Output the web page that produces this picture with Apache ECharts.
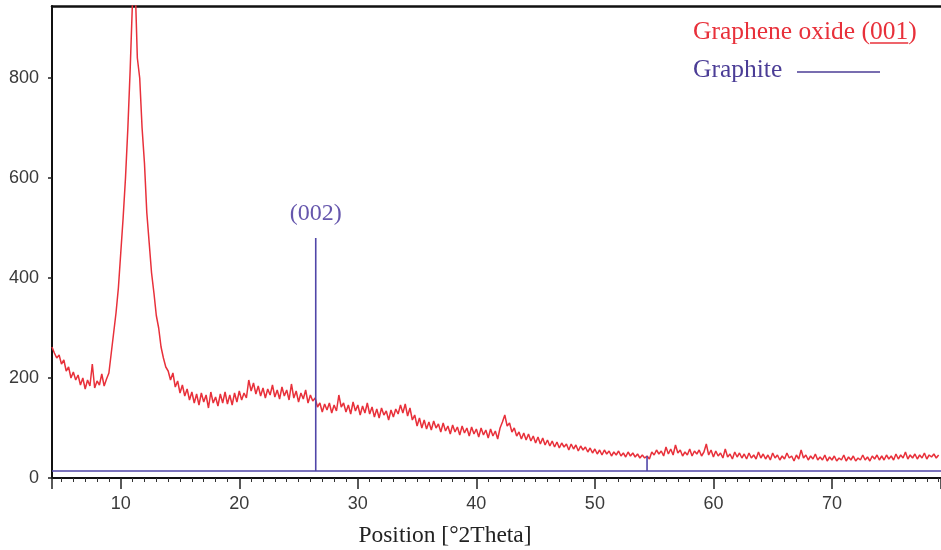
<!DOCTYPE html>
<html>
<head>
<meta charset="utf-8">
<script src="https://cdn.jsdelivr.net/npm/echarts@6/dist/echarts.min.js"></script>
<style>
  html, body { margin: 0; padding: 0; background: #fff; }
  #chart { width: 941px; height: 550px; }
</style>
</head>
<body>
<div id="chart"></div>
<script>
// graphene oxide pattern, read every 0.2 deg from 4.2 to 79.0
const X_START = 4.2;
const X_STEP = 0.2;
const goIntensity = [
  262, 250, 240, 246, 228, 236, 214, 222, 200, 212, 196, 206, 186, 200, 178, 196, 184, 228, 180, 194, 186, 208, 184, 198, 210,
  250, 290, 330, 380, 450, 520, 600, 700, 820, 960, 1000, 840, 800, 700, 630, 530, 470, 410, 370, 325, 300, 262, 240, 222, 214,
  196, 210, 182, 194, 170, 186, 164, 178, 156, 172, 150, 168, 146, 170, 152, 166, 140, 172, 150, 162, 144, 168, 150, 172, 148,
  166, 146, 170, 152, 174, 156, 170, 160, 196, 174, 190, 168, 184, 164, 180, 160, 178, 166, 186, 162, 176, 158, 182, 164, 176,
  156, 188, 160, 174, 152, 170, 158, 176, 150, 166, 154, 160, 142, 150, 132, 148, 136, 150, 130, 146, 134, 166, 142, 150, 132,
  146, 128, 152, 134, 146, 126, 144, 130, 150, 128, 142, 122, 138, 120, 140, 126, 134, 116, 136, 122, 138, 128, 146, 130, 148,
  124, 140, 116, 126, 104, 120, 100, 116, 98, 112, 96, 114, 100, 108, 92, 110, 94, 104, 88, 106, 92, 102, 86, 104, 90,
  100, 84, 102, 88, 98, 82, 100, 86, 96, 80, 98, 84, 94, 78, 100, 112, 126, 104, 110, 92, 100, 84, 92, 78, 90,
  76, 88, 74, 84, 70, 82, 68, 80, 66, 76, 64, 74, 62, 72, 60, 70, 62, 68, 56, 68, 58, 66, 54, 64, 56,
  62, 52, 60, 50, 58, 48, 56, 46, 56, 48, 54, 44, 52, 46, 54, 44, 50, 42, 52, 44, 50, 42, 48, 40, 46,
  40, 44, 38, 52, 46, 56, 48, 54, 44, 62, 48, 58, 46, 66, 50, 56, 44, 52, 46, 58, 44, 54, 48, 56, 44,
  52, 68, 46, 56, 42, 54, 44, 50, 40, 58, 42, 48, 38, 52, 42, 50, 40, 48, 38, 50, 40, 46, 38, 52, 40,
  48, 38, 46, 36, 50, 40, 46, 36, 44, 38, 50, 40, 44, 34, 46, 38, 56, 40, 46, 36, 44, 38, 48, 36, 42,
  36, 46, 34, 42, 36, 44, 34, 40, 36, 46, 34, 42, 36, 44, 34, 40, 36, 46, 36, 42, 34, 44, 38, 46, 36,
  44, 36, 46, 38, 44, 36, 48, 38, 46, 40, 52, 38, 46, 40, 48, 38, 46, 40, 50, 38, 46, 42, 48, 40, 46
];

// graphite reference sticks
const graphitePos = [26.45, 54.4];
const graphiteInt = [480, 44];
const graphiteLabels = ['(002)', ''];
const graphiteBase = 14;

const X_MIN = 4.2;
const X_MAX = 79.2;
const Y_MAX = 944;

const SERIF = 'Liberation Serif';
const RED = '#e8303a';
const BLUE = '#4b3d96';

const goData = goIntensity.map((v, i) => [+(X_START + i * X_STEP).toFixed(2), v]);

const graphiteData = [[X_MIN, graphiteBase]];
graphitePos.forEach((p, i) => {
    graphiteData.push([p, graphiteBase]);
    graphiteData.push({
        value: [p, graphiteInt[i]],
        label: {
            show: graphiteLabels[i] !== '',
            formatter: graphiteLabels[i],
            position: 'top',
            distance: 12,
            fontFamily: SERIF,
            fontSize: 24,
            color: '#6657ad'
        }
    });
    graphiteData.push([p, graphiteBase]);
});
graphiteData.push([X_MAX, graphiteBase]);

// measure legend text so the underline sits under "001"
const legendFont = '25.5px "' + SERIF + '"';
const ctx = document.createElement('canvas').getContext('2d');
ctx.font = legendFont;
const uStart = 693 + ctx.measureText('Graphene oxide (').width;
const uEnd = uStart + ctx.measureText('001').width;

const chart = echarts.init(document.getElementById('chart'));
chart.setOption({
    backgroundColor: '#fff',
    animation: false,
    grid: { left: 52, right: 0, top: 6, bottom: 72 },
    xAxis: [
        {
            type: 'value',
            min: X_MIN,
            max: X_MAX,
            splitNumber: 7,
            minInterval: 10,
            maxInterval: 10,
            axisLine: { show: true, lineStyle: { color: '#111', width: 2 } },
            axisTick: { show: true, inside: false, length: 11, lineStyle: { color: '#222', width: 1.5 } },
            minorTick: { show: true, splitNumber: 10, length: 4, lineStyle: { color: '#333', width: 1 } },
            axisLabel: {
                showMinLabel: false,
                showMaxLabel: false,
                margin: 17,
                fontFamily: 'Liberation Sans',
                fontSize: 18,
                color: '#3a3a3a'
            },
            splitLine: { show: false }
        },
        {
            type: 'value',
            position: 'top',
            min: X_MIN,
            max: X_MAX,
            axisLine: { show: true, lineStyle: { color: '#111', width: 2.5 } },
            axisTick: { show: false },
            axisLabel: { show: false },
            splitLine: { show: false }
        }
    ],
    yAxis: {
        type: 'value',
        min: 0,
        max: Y_MAX,
        interval: 200,
        axisLine: { show: true, lineStyle: { color: '#111', width: 2 } },
        axisTick: { show: true, length: 4, lineStyle: { color: '#222', width: 1.5 } },
        axisLabel: {
            showMaxLabel: false,
            margin: 13,
            padding: [0, 0, 8, 0],
            fontFamily: 'Liberation Sans',
            fontSize: 18,
            color: '#3a3a3a'
        },
        splitLine: { show: false }
    },
    series: [
        {
            name: 'Graphene oxide',
            type: 'line',
            data: goData,
            showSymbol: false,
            clip: true,
            lineStyle: { color: RED, width: 1.5 },
            z: 2
        },
        {
            name: 'Graphite',
            type: 'line',
            data: graphiteData,
            showSymbol: true,
            symbol: 'circle',
            symbolSize: 0,
            clip: true,
            lineStyle: { color: '#5046a8', width: 1.6 },
            z: 3
        }
    ],
    graphic: [
        {
            type: 'text',
            style: {
                x: 693, y: 32,
                verticalAlign: 'middle',
                text: 'Graphene oxide (001)',
                font: legendFont,
                fill: RED
            }
        },
        {
            type: 'line',
            shape: { x1: uStart, y1: 43, x2: uEnd, y2: 43 },
            style: { stroke: RED, lineWidth: 1.5 }
        },
        {
            type: 'text',
            style: {
                x: 693, y: 70,
                verticalAlign: 'middle',
                text: 'Graphite',
                font: legendFont,
                fill: BLUE
            }
        },
        {
            type: 'line',
            shape: { x1: 797, y1: 72, x2: 880, y2: 72 },
            style: { stroke: BLUE, lineWidth: 1.6 }
        },
        {
            type: 'text',
            style: {
                x: 445, y: 536,
                align: 'center',
                verticalAlign: 'middle',
                text: 'Position [°2Theta]',
                font: '23.5px "' + SERIF + '"',
                fill: '#222'
            }
        }
    ]
});
</script>
</body>
</html>
